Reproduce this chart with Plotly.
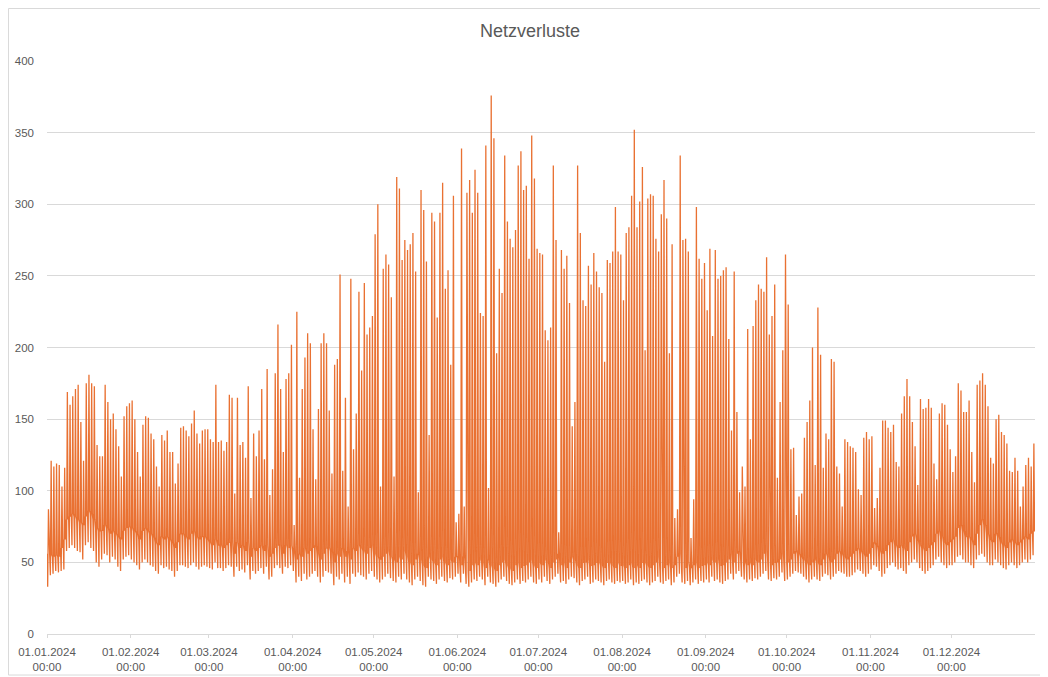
import pandas as pd
import plotly.graph_objects as go

# ---- data: daily values (Netzverluste, 2024) ----
peak_jan = [87,121,117,119,118,103,116,169,160,166,171,174,148,121,175,181,175,173,132,124,124,174,162,150,154,143,131,110,152,159,161]
peak_feb = [163,150,127,110,146,152,151,140,136,117,103,139,135,142,127,127,105,119,144,145,142,138,147,156,140,133,142,143,143]
peak_mar = [136,134,174,134,135,128,134,167,165,98,165,132,134,123,173,95,140,124,142,171,122,185,97,115,182,216,171,127,178,182,202]
peak_apr = [76,225,109,171,193,210,203,143,108,157,203,210,203,156,112,188,192,251,114,165,89,248,129,154,239,184,245,209,214,222]
peak_may = [279,300,103,255,265,258,235,110,319,311,261,275,268,272,280,253,99,310,296,260,139,294,288,221,294,315,241,254,188,306,78]
peak_jun = [84,339,89,308,317,294,324,308,224,222,341,102,376,346,196,255,238,334,288,276,270,282,327,337,310,313,262,348,318,269]
peak_jul = [266,265,212,205,214,327,275,71,268,255,264,231,145,162,327,280,233,229,257,244,266,253,242,238,190,261,259,267,298,267,265]
peak_aug = [233,280,284,306,352,284,302,326,198,304,307,306,276,267,293,317,290,196,272,81,87,334,275,276,267,67,94,298,262,248,259]
peak_sep = [226,269,208,268,248,250,254,256,206,142,253,155,99,117,103,213,136,215,233,244,241,239,263,209,222,244,109,162,198,265]
peak_oct = [230,129,130,83,96,98,137,148,163,200,118,228,195,116,140,136,192,190,117,112,89,136,134,131,130,127,101,97,137,141,136]
peak_nov = [138,88,95,116,149,149,144,141,146,120,117,154,166,178,166,148,131,104,164,157,158,164,158,119,108,154,161,160,146,129]
peak_dec = [113,124,175,170,155,155,163,127,106,174,177,182,174,159,123,119,150,153,141,139,133,114,113,123,114,89,103,118,123,117,133]

trough_jan = [33,41,42,44,43,44,45,58,60,62,60,58,57,52,62,64,60,58,50,47,52,56,55,50,54,52,47,44,52,54,55]
trough_feb = [52,50,48,45,50,52,50,48,47,44,42,48,46,47,45,44,40,44,48,48,47,46,48,50,47,45,47,48,47]
trough_mar = [46,45,50,46,46,44,46,48,47,40,47,44,45,43,48,38,44,42,44,46,42,47,38,40,46,48,46,42,47,46,48]
trough_apr = [44,36,40,37,42,38,40,42,44,40,36,40,44,43,42,34,40,38,42,36,40,35,42,40,43,41,40,38,42,44]
trough_may = [40,38,36,38,40,42,39,37,36,40,38,42,38,36,34,38,40,37,34,33,40,38,37,35,38,40,37,36,39,38,40]
trough_jun = [42,36,42,35,33,36,38,37,40,38,34,40,36,35,33,36,38,40,37,35,34,36,38,35,37,36,38,40,36,35]
trough_jul = [38,36,40,37,35,38,40,42,36,37,35,38,40,39,36,34,37,38,40,35,36,38,37,36,34,37,38,36,35,37,36]
trough_aug = [37,35,36,38,34,36,35,37,38,36,34,36,37,40,36,35,37,38,34,36,40,42,36,35,37,34,36,38,35,37,36]
trough_sep = [38,36,40,37,38,36,35,37,38,42,38,42,44,40,38,36,38,37,39,38,40,42,44,38,37,39,38,40,43,37]
trough_oct = [38,40,42,44,43,42,40,38,36,38,40,38,37,40,42,41,38,40,42,44,43,42,40,40,41,43,45,44,42,40,42]
trough_nov = [45,48,47,44,40,42,46,48,50,47,45,46,44,42,48,50,52,50,46,44,42,44,46,48,52,54,50,48,46,48]
trough_dec = [48,50,54,55,52,50,50,48,46,52,55,56,54,50,48,48,52,50,48,46,45,48,50,48,46,48,50,52,50,52,55]

night_jan = [56,55,54,55,54,60,66,80,82,84,82,80,78,76,82,86,84,80,74,72,72,76,74,70,72,70,68,66,72,74,75]
night_feb = [74,72,70,66,72,74,72,70,68,64,62,68,66,68,66,64,60,64,70,70,68,66,70,72,68,66,68,68,66]
night_mar = [64,62,66,62,62,60,62,64,64,56,64,60,62,58,64,54,60,58,60,62,58,62,54,56,60,62,62,56,62,60,62]
night_apr = [58,52,56,54,60,56,58,60,62,56,52,56,60,60,58,50,56,54,60,54,58,52,60,58,62,60,58,56,60,62]
night_may = [56,54,52,54,56,58,54,52,50,54,52,58,54,50,48,52,56,52,48,46,54,52,50,48,52,54,50,48,52,50,54]
night_jun = [54,48,54,46,44,48,50,48,52,50,46,52,48,46,44,48,50,52,48,46,44,48,50,46,48,48,50,52,48,46]
night_jul = [50,48,52,50,46,50,52,56,48,50,46,50,54,52,48,46,50,50,52,48,48,50,50,48,46,50,50,48,46,50,48]
night_aug = [48,46,48,50,46,48,46,50,50,48,46,48,50,54,48,46,48,50,46,48,54,56,48,46,50,46,48,50,46,48,48]
night_sep = [50,48,52,50,52,48,48,50,52,56,50,56,58,52,50,48,50,48,52,50,52,56,58,50,48,50,50,52,56,50]
night_oct = [50,52,56,58,56,54,52,50,48,50,52,50,48,52,56,54,50,52,56,58,56,54,52,54,56,58,60,58,56,54,56]
night_nov = [60,64,62,58,56,58,62,64,66,62,60,62,60,58,64,68,70,66,62,60,58,60,62,64,70,72,68,64,62,64]
night_dec = [66,68,74,76,72,68,68,66,62,70,76,80,76,70,66,64,70,68,64,62,60,64,66,64,62,64,66,68,66,70,72]

month_starts = ["2024-01-01","2024-02-01","2024-03-01","2024-04-01","2024-05-01","2024-06-01",
                "2024-07-01","2024-08-01","2024-09-01","2024-10-01","2024-11-01","2024-12-01"]
tick_labels = ["01.01.2024<br>00:00","01.02.2024<br>00:00","01.03.2024<br>00:00","01.04.2024<br>00:00",
               "01.05.2024<br>00:00","01.06.2024<br>00:00","01.07.2024<br>00:00","01.08.2024<br>00:00",
               "01.09.2024<br>00:00","01.10.2024<br>00:00","01.11.2024<br>00:00","01.12.2024<br>00:00"]

peak = (peak_jan + peak_feb + peak_mar + peak_apr + peak_may + peak_jun +
        peak_jul + peak_aug + peak_sep + peak_oct + peak_nov + peak_dec)
trough = (trough_jan + trough_feb + trough_mar + trough_apr + trough_may + trough_jun +
          trough_jul + trough_aug + trough_sep + trough_oct + trough_nov + trough_dec)
night = (night_jan + night_feb + night_mar + night_apr + night_may + night_jun +
         night_jul + night_aug + night_sep + night_oct + night_nov + night_dec)
assert len(peak) == len(trough) == len(night) == 366, (len(peak), len(trough), len(night))

days = pd.date_range("2024-01-01", periods=366, freq="D")
H = pd.Timedelta(hours=1)
xs, ys = [], []
for d, n, t, p in zip(days, night, trough, peak):
    xs += [d, d + 6 * H, d + 13 * H, d + 19 * H]
    ys += [n, t, p, n]
xs.append(days[-1] + 23 * H)
ys.append(night[-1])

ORANGE = "#E97132"
GRAY_TXT = "#595959"
GRID = "#D9D9D9"
FONT = "Liberation Sans"

fig = go.Figure(go.Scatter(x=xs, y=ys, mode="lines",
                           line=dict(color=ORANGE, width=1.3), hoverinfo="skip"))

# page body has an 8px margin, so the figure is 8px smaller and margins shifted
fig.update_layout(
    width=1040, height=669,
    margin=dict(l=39, r=13, t=53, b=43, autoexpand=False),
    paper_bgcolor="white", plot_bgcolor="white",
    showlegend=False,
    font=dict(family=FONT, color=GRAY_TXT, size=11.5),
    title=dict(text="Netzverluste", x=0.502, xref="container", xanchor="center",
               y=1 - 23 / 669, yref="container", yanchor="middle",
               font=dict(family=FONT, size=18, color=GRAY_TXT)),
    shapes=[dict(type="rect", xref="paper", yref="paper",
                 x0=-0.039, x1=1.0101, y0=-0.0716, y1=1.0916,
                 line=dict(color=GRID, width=1), fillcolor="rgba(0,0,0,0)", layer="below")],
)
fig.update_xaxes(
    range=[xs[0], xs[-1]], automargin=False,
    tickmode="array", tickvals=pd.to_datetime(month_starts), ticktext=tick_labels,
    showgrid=False, showline=True, linecolor=GRID, linewidth=1,
    ticks="outside", ticklen=3, tickcolor=GRID, ticklabelstandoff=4,
    tickfont=dict(family=FONT, size=11.5, color=GRAY_TXT), zeroline=False,
)
fig.update_yaxes(
    range=[0, 400], dtick=50, showgrid=True, gridcolor=GRID, gridwidth=1, automargin=False,
    zeroline=False, showline=False, ticks="", ticklabelstandoff=12,
    tickfont=dict(family=FONT, size=11.5, color=GRAY_TXT),
)

fig.write_html("out.html")
